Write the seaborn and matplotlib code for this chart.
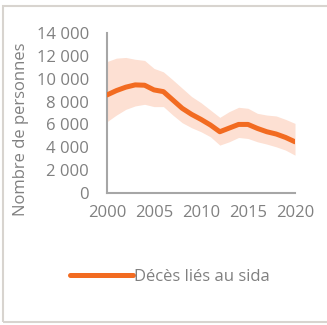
import matplotlib
matplotlib.use("Agg")
import matplotlib.pyplot as plt
from matplotlib.patches import Rectangle
import seaborn as sns
import pandas as pd

years = list(range(2000, 2021))
deaths = [8580, 8960, 9260, 9460, 9430, 9020, 8870, 8140, 7410, 6880, 6440,
          5950, 5360, 5680, 6000, 6000, 5650, 5360, 5160, 4860, 4480]
upper = [11500, 11800, 11860, 11700, 11600, 10900, 10600, 9900, 9170, 8440, 7900,
         7260, 6620, 7120, 7500, 7410, 6970, 6820, 6740, 6440, 6090]
lower = [6240, 6820, 7320, 7620, 7760, 7560, 7560, 6820, 6150, 5710, 5360,
         4920, 4190, 4480, 4860, 4770, 4480, 4280, 4040, 3750, 3310]
y_ticks = [0, 2000, 4000, 6000, 8000, 10000, 12000, 14000]
x_ticks = [2000, 2005, 2010, 2015, 2020]
series_label = "Décès liés au sida"
y_label = "Nombre de personnes"

df = pd.DataFrame({"year": years, "deaths": deaths, "upper": upper, "lower": lower})

sns.set_theme(style="white")
plt.rcParams["font.family"] = ["Open Sans", "DejaVu Sans"]

text_color = "#808080"
axis_color = "#a6a6a6"
line_color = "#f26b21"
band_color = "#fde0d3"
fs = 12

fig = plt.figure(figsize=(3.27, 3.25), dpi=100)
fig.patch.set_facecolor("white")

# outer frame
fig.patches.append(Rectangle((3 / 327, 3 / 325), 1.2, 316 / 325,
                             transform=fig.transFigure, fill=False,
                             edgecolor="#d8d4cf", linewidth=1.5))

ax = fig.add_axes([107 / 327, 1 - 193 / 325, 188 / 327, 160 / 325])
ax.fill_between(df["year"], df["lower"], df["upper"], color=band_color, linewidth=0, zorder=1)
sns.lineplot(data=df, x="year", y="deaths", ax=ax, color=line_color, linewidth=3.6,
             label=series_label, zorder=3, solid_capstyle="round", legend=False)

ax.set_xlim(2000, 2020)
ax.set_ylim(0, 14000)
ax.set_yticks(y_ticks)
ax.set_yticklabels([f"{v:,}".replace(",", " ") for v in y_ticks])
ax.set_xticks(x_ticks)
ax.set_xticklabels([str(v) for v in x_ticks])
ax.set_xticks(years, minor=True)
ax.tick_params(axis="x", which="both", direction="in", length=3, width=1,
               color=axis_color, labelsize=fs, labelcolor=text_color, pad=9)
ax.tick_params(axis="y", length=0, labelsize=fs, labelcolor=text_color, pad=13)
ax.set_xlabel("")
ax.set_ylabel(y_label, fontsize=fs, color=text_color)
ax.yaxis.set_label_coords(-0.415, 0.40)
for side in ["top", "right"]:
    ax.spines[side].set_visible(False)
for side in ["left", "bottom"]:
    ax.spines[side].set_color(axis_color)
    ax.spines[side].set_linewidth(1.5)
ax.set_facecolor("none")

handle = plt.Line2D([], [], color=line_color, linewidth=3.6, solid_capstyle="round")
fig.legend([handle], [series_label], loc="center", bbox_to_anchor=(0.52, 1 - 277 / 325),
           frameon=False, fontsize=fs, labelcolor=text_color, handlelength=3.8,
           handletextpad=0.05)

fig.savefig("out.png", dpi=100)
